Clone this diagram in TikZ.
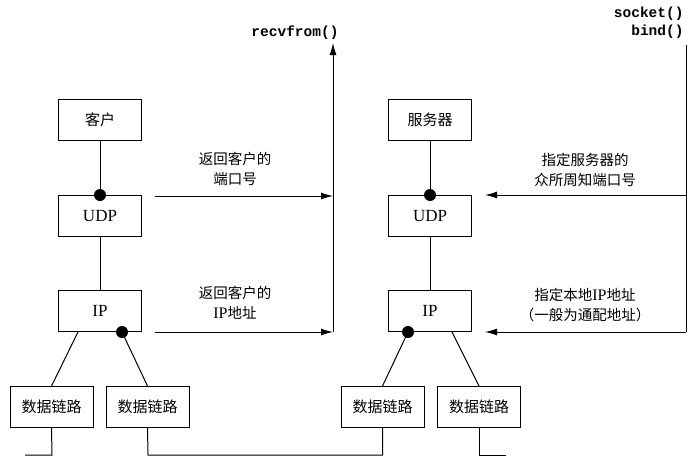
\documentclass[tikz,border=0pt]{standalone}
\usepackage{fontspec}
\setmainfont{Liberation Serif}
\setmonofont{Liberation Mono}
\newfontfamily\cjk{Noto Sans CJK SC}
\usetikzlibrary{calc, positioning, arrows.meta}

\tikzset{
    layer/.style = {draw, line width=1pt, minimum width=83pt, minimum height=41pt,
        inner sep=0pt, font=\fontsize{17}{18}\selectfont},
    note/.style = {align=center, inner sep=0pt, font=\cjk\fontsize{14.5}{20}\selectfont},
    call/.style = {inner sep=0pt, font=\ttfamily\bfseries\fontsize{14.5}{18}\selectfont},
    bead/.style = {circle, fill, inner sep=0pt, minimum size=12pt},
    tip/.style = {-{Latex[length=12pt,width=7pt]}},
}

\begin{document}
\begin{tikzpicture}[x=1pt, y=-1pt, line width=1pt]
        \useasboundingbox (0,0) rectangle (700,463);
        % client side
        \node[layer] (cli) at (100,120) {\cjk\fontsize{15}{18}\selectfont 客户};
        \node[layer] (udpL) at (100,216) {UDP};
        \node[layer] (ipL) at (100,311) {IP};
        \node[layer] (dl1) at (51.5,407) {\cjk\fontsize{15}{18}\selectfont 数据链路};
        \node[layer] (dl2) at (147.5,407) {\cjk\fontsize{15}{18}\selectfont 数据链路};
        % server side
        \node[layer] (srv) at (430,120) {\cjk\fontsize{15}{18}\selectfont 服务器};
        \node[layer] (udpR) at (430,216) {UDP};
        \node[layer] (ipR) at (430,311) {IP};
        \node[layer] (dl3) at (382.5,407) {\cjk\fontsize{15}{18}\selectfont 数据链路};
        \node[layer] (dl4) at (479,407) {\cjk\fontsize{15}{18}\selectfont 数据链路};

        \draw (cli) -- (udpL);
        \draw (udpL) -- (ipL);
        \draw (srv) -- (udpR);
        \draw (udpR) -- (ipR);

        \node[bead] (bUL) at (udpL.north) {};
        \node[bead] (bIL) at ($(ipL.south east)+(-20,0)$) {};
        \node[bead] (bUR) at (udpR.north) {};
        \node[bead] (bIR) at ($(ipR.south west)+(20,0)$) {};

        \draw ($(ipL.south west)+(20,0)$) -- (dl1.north);
        \draw (bIL.center) -- (dl2.north);
        \draw (bIR.center) -- (dl3.north);
        \draw ($(ipR.south east)+(-20,0)$) -- (dl4.north);

        % wires
        \draw (dl1.south) -- (52,455) -- (25,455);
        \draw (dl2.south) -- (148,455) -| (dl3.south);
        \draw (dl4.south) -- (479,455) -- (506,455);

        % recvfrom
        \coordinate (rcvB) at (333,332);
        \coordinate (rcvT) at (333,43);
        \node[call] (rcv) at (295,33) {recvfrom()};
        \draw[tip] (rcvB) -- (rcvT);
        \draw[tip] (155,196) -- (rcvT |- 0,196);
        \draw[tip] (155,332) -- (rcvB);
        \node[note] (portL) at (235,169) {返回客户的\\端口号};
        \node[note] (addrL) at (235,303) {返回客户的\\{\rmfamily\fontsize{16}{20}\selectfont IP}地址};

        % socket, bind
        \coordinate (bndT) at (686,45);
        \coordinate (bndB) at (686,332);
        \node[call, anchor=east] (sck) at (684,14) {socket()};
        \node[call, anchor=east] (bnd) at (684,32) {bind()};
        \draw (bndT) -- (bndB);
        \draw[tip] (bndT |- 0,195) -- (485,195);
        \draw[tip] (bndB) -- (485,332);
        \node[note] (portR) at (585,170) {指定服务器的\\众所周知端口号};
        \node[note] (addrR) at (585,305) {指定本地{\rmfamily\fontsize{16}{20}\selectfont IP}地址\\（一般为通配地址）};
    \end{tikzpicture}
\end{document}
